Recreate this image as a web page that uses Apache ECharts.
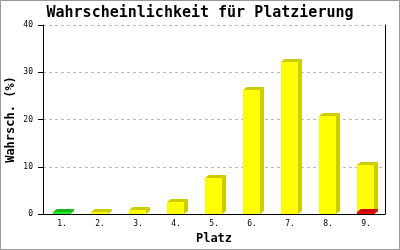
<!DOCTYPE html>
<html><head><meta charset="utf-8">
<script src="https://cdn.jsdelivr.net/npm/echarts@6/dist/echarts.min.js"></script>
<style>html,body{margin:0;padding:0;background:#fff}#c{width:400px;height:250px}</style>
</head><body><div id="c"></div>
<script>
const categories = ['1.','2.','3.','4.','5.','6.','7.','8.','9.'];
const greenValues  = [0.5, null, null, null, null, null, null, null, null];
const yellowValues = [null, 0.4, 0.9, 2.6, 7.6, 26.2, 32.2, 20.7, 10.4];
const redValues    = [null, null, null, null, null, null, null, null, 0.4];
const yTicks = [0, 10, 20, 30, 40];

const chart = echarts.init(document.getElementById('c'), null, {renderer:'canvas'});
const FONT = 'DejaVu Sans Mono';

function bar3d(front, shade){
  return function(params, api){
    const v = api.value(1);
    if (v == null || isNaN(v)) return null;
    const t = api.coord([api.value(0), v]);
    const b = api.coord([api.value(0), 0]);
    const w = 17, dx = 4, dy = 3;
    const x0 = Math.round(t[0] - 9);
    const yt = Math.round(t[1]), yb = Math.round(b[1]);
    return {type:'group', children:[
      {type:'polygon', shape:{points:[[x0+w,yt],[x0+w+dx,yt-dy],[x0+w+dx,yb-dy],[x0+w,yb]]}, style:{fill:shade}},
      {type:'polygon', shape:{points:[[x0,yt],[x0+dx,yt-dy],[x0+w+dx,yt-dy],[x0+w,yt]]}, style:{fill:shade}},
      {type:'rect', shape:{x:x0, y:yt, width:w, height:Math.max(yb-yt,1)}, style:{fill:front}}
    ]};
  };
}
function mk(vals, front, shade){
  return {type:'custom', renderItem: bar3d(front, shade),
    data: vals.map((v,i)=>[i, v]), encode:{x:0,y:1}, z:5};
}

chart.setOption({
  animation:false,
  backgroundColor:'#fff',
  title:{text:'Wahrscheinlichkeit für Platzierung', left:'center', top:1,
    textStyle:{fontFamily:FONT, fontSize:15, fontWeight:'bold', color:'#000'}},
  grid:{left:43, right:15, top:25, bottom:36, containLabel:false, outerBoundsMode:'none'},
  xAxis:{type:'category', data:categories, boundaryGap:true,
    name:'Platz', nameLocation:'middle', nameGap:19,
    nameTextStyle:{fontFamily:FONT, fontSize:12, fontWeight:'bold', color:'#000'},
    axisLine:{lineStyle:{color:'#000', width:1}}, axisTick:{show:false},
    axisLabel:{fontFamily:FONT, fontSize:8, color:'#000', margin:6}},
  yAxis:[{type:'value', min:0, max:40, interval:10,
    name:'Wahrsch. (%)', nameLocation:'middle', nameGap:26, nameRotate:90,
    nameMoveOverlap:false,
    nameTextStyle:{fontFamily:FONT, fontSize:12, fontWeight:'bold', color:'#000'},
    axisLine:{show:true, lineStyle:{color:'#000'}},
    axisTick:{show:true, length:5, lineStyle:{color:'#000'}},
    axisLabel:{fontFamily:FONT, fontSize:8, color:'#000', margin:10,
      formatter:v=>yTicks.includes(v)?String(v):''},
    splitLine:{show:true, lineStyle:{color:'#bbb', type:[3,3]}}},
   {type:'value', min:0, max:40, interval:10, position:'right',
    axisLine:{show:true, lineStyle:{color:'#000'}}, axisTick:{show:false},
    axisLabel:{show:false}, splitLine:{show:false}}],
  graphic:[{type:'rect', shape:{x:0.5,y:0.5,width:399,height:249},
    style:{fill:null, stroke:'#999', lineWidth:1}, z:100}],
  series:[
    mk(greenValues, '#22ee22', '#11bb11'),
    mk(yellowValues, '#ffff00', '#cccc00'),
    mk(redValues, '#ff0000', '#cc0000')
  ]
});
</script></body></html>
